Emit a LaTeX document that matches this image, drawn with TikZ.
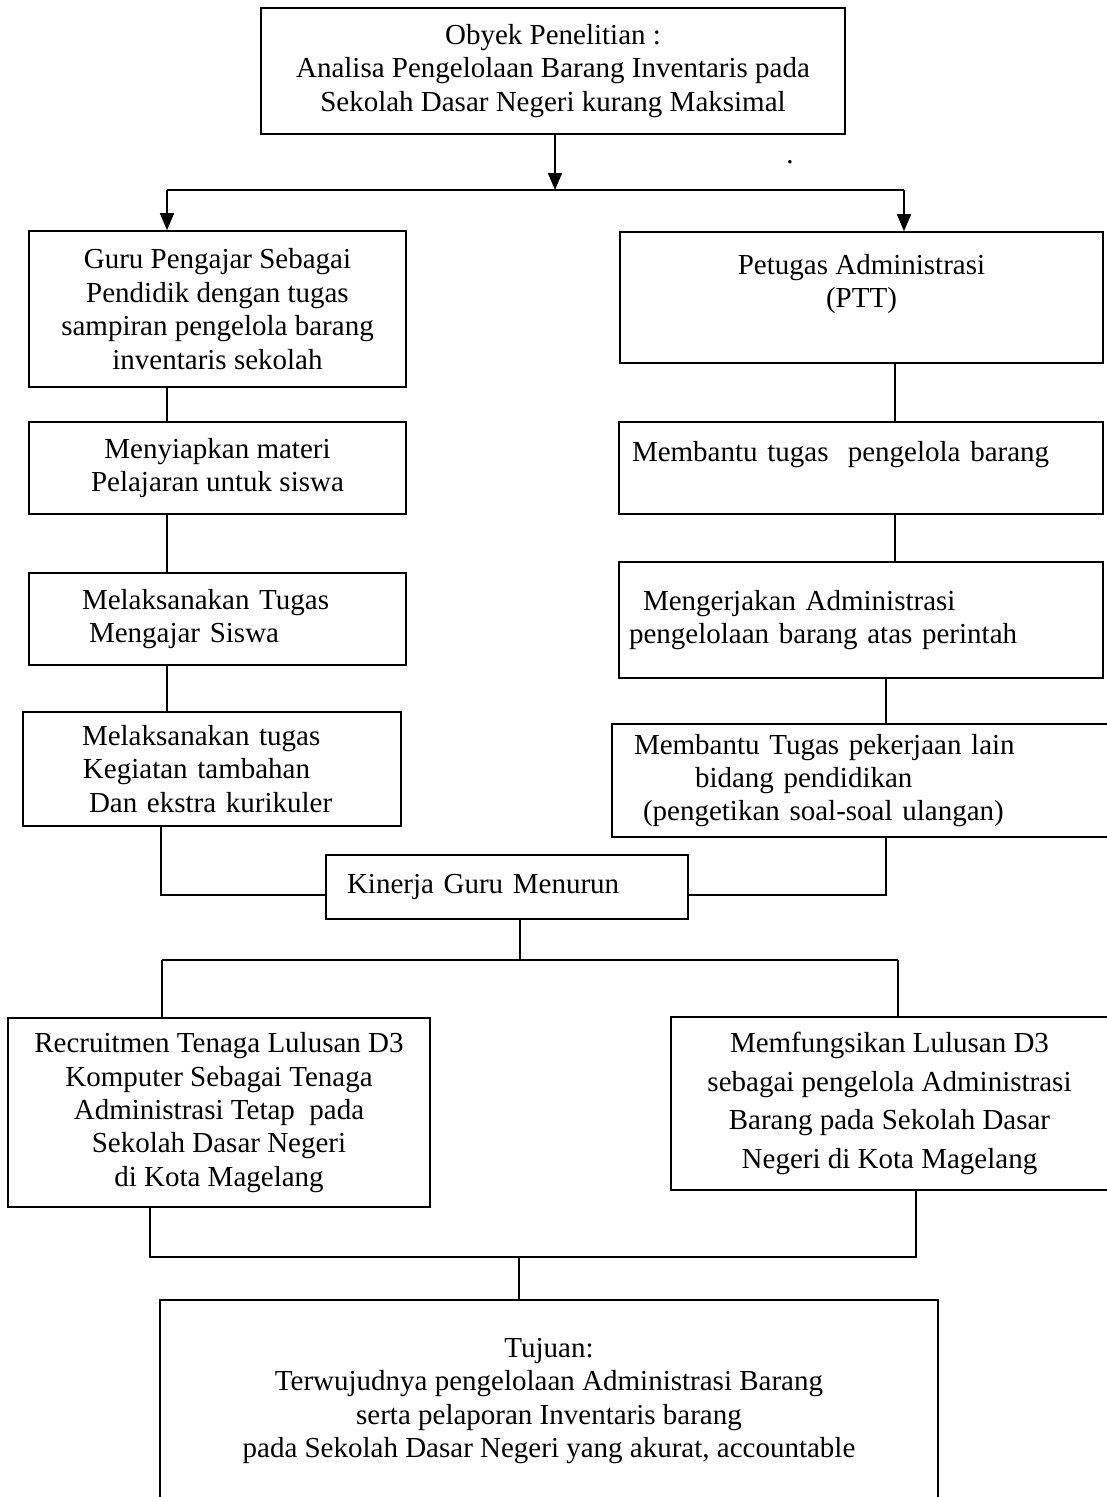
\documentclass[tikz,border=0pt]{standalone}
\usepackage{fontspec}
\setmainfont{Liberation Serif}
\usetikzlibrary{arrows.meta}

\begin{document}
\begin{tikzpicture}[
  x=1pt, y=-1pt,
  font=\fontsize{29}{33.4}\selectfont,
  line width=1.6pt,
  b/.style={draw, inner sep=0pt, align=center},
  bl/.style={draw, inner ysep=0pt, inner xsep=10pt, align=left},
  a/.style={-{Triangle[length=17pt,width=14pt]}}
]
\useasboundingbox (0,0) rectangle (1107,1497);
\node[b, minimum width=584pt, minimum height=126pt] (T) at (553,71)
  {Obyek Penelitian :\\Analisa Pengelolaan Barang Inventaris pada\\Sekolah Dasar Negeri kurang Maksimal};
\node[anchor=base] (dot) at (790,163) {.};
\node[b, minimum width=377pt, minimum height=156pt] (G1) at (217.5,309)
  {Guru Pengajar Sebagai\\Pendidik dengan tugas\\sampiran pengelola barang\\inventaris sekolah};
\node[b, minimum width=377pt, minimum height=92pt] (G2) at (217.5,468)
  {Menyiapkan materi\\Pelajaran untuk siswa};
\node[bl, text width=357pt, minimum height=92pt] (G3) at (217.5,619)
  {\hspace*{43pt}Melaksanakan Tugas\\\hspace*{50pt}Mengajar Siswa};
\node[bl, text width=358pt, minimum height=114pt] (G4) at (212,769)
  {\hspace*{49pt}Melaksanakan tugas\\\hspace*{50pt}Kegiatan tambahan\\\hspace*{56pt}Dan ekstra kurikuler};
\node[b, minimum width=483pt, minimum height=131pt] (P) at (861.5,297.5)
  {Petugas Administrasi\\(PTT)\\\mbox{}};
\node[bl, text width=464pt, minimum height=92pt] (R1) at (861,468)
  {\hspace*{3pt}Membantu tugas\ \ pengelola barang\\\mbox{}};
\node[bl, text width=464pt, minimum height=116pt] (R2) at (861,620)
  {\hspace*{14pt}Mengerjakan Administrasi\\pengelolaan barang atas perintah};
\node[bl, text width=478pt, minimum height=113pt] (R3) at (861,780.5)
  {\hspace*{12pt}Membantu Tugas pekerjaan lain\\\hspace*{73pt}bidang pendidikan\\\hspace*{21pt}(pengetikan soal-soal ulangan)};
\node[bl, text width=342pt, minimum height=64pt] (K) at (507,887)
  {\hspace*{11pt}Kinerja Guru Menurun};
\node[b, minimum width=422pt, minimum height=189pt] (Rec) at (219,1112.5)
  {Recruitmen Tenaga Lulusan D3\\Komputer Sebagai Tenaga\\Administrasi Tetap\ \ pada\\Sekolah Dasar Negeri\\di Kota Magelang};
\node[b, minimum width=437pt, minimum height=173pt, font=\fontsize{29}{38.5}\selectfont] (Mem) at (889.5,1103.5)
  {Memfungsikan Lulusan D3\\sebagai pengelola Administrasi\\Barang pada Sekolah Dasar\\Negeri di Kota Magelang};
\node[b, minimum width=778pt, minimum height=202pt] (Tj) at (549,1401)
  {Tujuan:\\Terwujudnya pengelolaan Administrasi Barang\\serta pelaporan Inventaris barang\\pada Sekolah Dasar Negeri yang akurat, accountable};

\coordinate (xa) at (555,190);
\coordinate (xl) at (167,190);
\coordinate (xr) at (904,190);
\draw[a] (T.south -| xa) -- (xa);
\draw (xl) -- (xr);
\draw[a] (xl) -- (xl |- G1.north);
\draw[a] (xr) -- (xr |- P.north);

\coordinate (cl) at (167,0);
\draw (G1.south -| cl) -- (G2.north -| cl);
\draw (G2.south -| cl) -- (G3.north -| cl);
\draw (G3.south -| cl) -- (G4.north -| cl);
\coordinate (kl) at (161,895);
\draw (G4.south -| kl) -- (kl) -- (kl -| K.west);

\coordinate (cr) at (895,0);
\draw (P.south -| cr) -- (R1.north -| cr);
\draw (R1.south -| cr) -- (R2.north -| cr);
\coordinate (kr) at (886,895);
\draw (R2.south -| kr) -- (R3.north -| kr);
\draw (R3.south -| kr) -- (kr) -- (kr -| K.east);

\coordinate (m1) at (520,960);
\coordinate (ml) at (162,960);
\coordinate (mr) at (898,960);
\draw (K.south -| m1) -- (m1);
\draw (ml) -- (mr);
\draw (ml) -- (ml |- Rec.north);
\draw (mr) -- (mr |- Mem.north);

\coordinate (nl) at (150,1257);
\coordinate (nr) at (916,1257);
\coordinate (nm) at (519,1257);
\draw (Rec.south -| nl) -- (nl) -- (nr) -- (Mem.south -| nr);
\draw (nm) -- (nm |- Tj.north);
\end{tikzpicture}
\end{document}
